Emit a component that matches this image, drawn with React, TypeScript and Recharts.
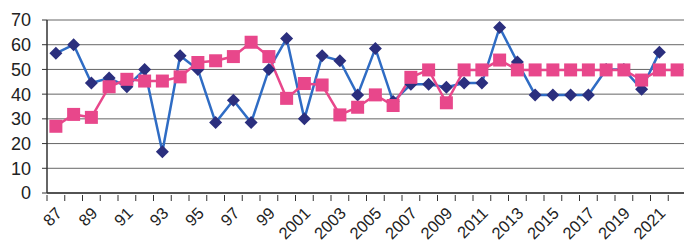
import { CartesianGrid, Line, LineChart, XAxis, YAxis } from 'recharts'

const years = [
  '87', '88', '89', '90', '91', '92', '93', '94', '95', '96', '97', '98', '99',
  '2000', '2001', '2002', '2003', '2004', '2005', '2006', '2007', '2008', '2009',
  '2010', '2011', '2012', '2013', '2014', '2015', '2016', '2017', '2018', '2019',
  '2020', '2021', '2022',
]

const blueValues: (number | null)[] = [
  56.5, 60, 44.5, 46.5, 43, 50, 16.7, 55.5, 50, 28.5, 37.5, 28.5, 50,
  62.5, 30, 55.5, 53.5, 39.7, 58.5, 37, 44, 44, 42.8,
  44.5, 44.5, 67, 53, 39.7, 39.7, 39.7, 39.7, 50, 50,
  42, 57, null,
]

const pinkValues = [
  27, 31.8, 30.6, 43, 46, 45.3, 45.3, 47, 52.8, 53.5, 55.2, 61, 55.2,
  38.3, 44.3, 43.7, 31.6, 34.7, 39.7, 35.4, 46.8, 49.8, 36.5,
  49.8, 49.8, 53.8, 49.8, 49.8, 49.8, 49.8, 49.8, 49.8, 49.8,
  45.7, 49.8, 49.8,
]

const yTicks = [0, 10, 20, 30, 40, 50, 60, 70]

const data = years.map((year, i) => ({
  year,
  blue: blueValues[i],
  pink: pinkValues[i],
}))

const CHART_W = 686
const CHART_H = 246
const Y_AXIS_W = 47
const BAND = (CHART_W - Y_AXIS_W) / years.length

const font = '"Liberation Sans", Arial, sans-serif'

function Diamond(props: any) {
  const { cx, cy, value } = props
  if (value == null || cx == null || cy == null) return null
  const r = 6.5
  return (
    <polygon
      points={`${cx},${cy - r} ${cx + r},${cy} ${cx},${cy + r} ${cx - r},${cy}`}
      fill="#2b2f7e"
    />
  )
}

function Square(props: any) {
  const { cx, cy } = props
  if (cx == null || cy == null) return null
  const h = 6.5
  return <rect x={cx - h} y={cy - h} width={h * 2} height={h * 2} fill="#e8478b" />
}

function YearTick(props: any) {
  const { x, y, payload } = props
  const idx = payload.index
  const lx = x - BAND / 2
  const ax = x - 1
  const ay = y + 6
  return (
    <g>
      <line x1={lx} y1={y - 5} x2={lx} y2={y + 1} stroke="#333" strokeWidth={1} />
      {idx % 2 === 0 && (
        <text
          x={ax}
          y={ay}
          transform={`rotate(-45 ${ax} ${ay})`}
          textAnchor="end"
          dy="0.7em"
          fontSize={16.5}
          fontFamily={font}
          fill="#222"
        >
          {payload.value}
        </text>
      )}
    </g>
  )
}

export default function App() {
  return (
    <div style={{ position: 'absolute', left: 0, top: 0, width: 684, height: 246, overflow: 'hidden', background: '#fff' }}>
      <LineChart
        width={CHART_W}
        height={CHART_H}
        data={data}
        margin={{ top: 20, right: 0, left: 0, bottom: 0 }}
      >
        <CartesianGrid vertical={false} stroke="#666" strokeWidth={1} />
        <XAxis
          dataKey="year"
          interval={0}
          height={53}
          padding={{ left: BAND / 2, right: BAND / 2 }}
          axisLine={{ stroke: '#333', strokeWidth: 1.5 }}
          tickLine={false}
          tickSize={5}
          tick={<YearTick />}
        />
        <YAxis
          width={Y_AXIS_W}
          domain={[0, 70]}
          ticks={yTicks}
          interval={0}
          axisLine={{ stroke: '#333', strokeWidth: 1.5 }}
          tickLine={{ stroke: '#333' }}
          tickSize={5}
          tickMargin={11}
          tick={{ fill: '#222', fontSize: 18, fontFamily: font }}
        />
        <Line
          type="linear"
          dataKey="blue"
          stroke="#2f6cc4"
          strokeWidth={2.5}
          dot={<Diamond />}
          activeDot={false}
          connectNulls={false}
          isAnimationActive={false}
        />
        <Line
          type="linear"
          dataKey="pink"
          stroke="#e8478b"
          strokeWidth={2.5}
          dot={<Square />}
          activeDot={false}
          isAnimationActive={false}
        />
      </LineChart>
    </div>
  )
}
